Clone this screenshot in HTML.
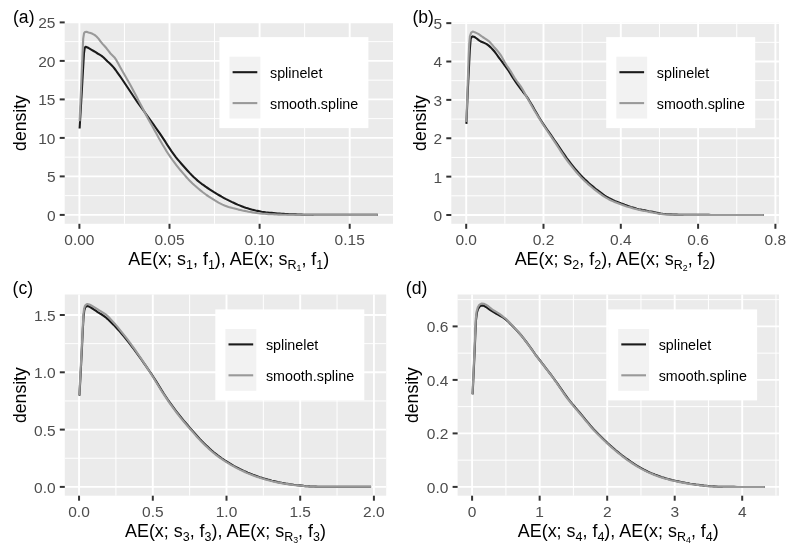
<!DOCTYPE html>
<html lang="en">
<head>
<meta charset="utf-8">
<title>Density of absolute errors: splinelet vs smooth.spline</title>
<style>
html,body{margin:0;padding:0;background:#fff;}
body{width:796px;height:555px;overflow:hidden;}
svg{display:block;}
text{white-space:pre;}
</style>
</head>
<body>
<svg width="796" height="555" viewBox="0 0 796 555" font-family='"Liberation Sans", Arial, Helvetica, sans-serif'>
<rect x="0" y="0" width="796" height="555" fill="#fff"/>
<g>
<rect x="64.7" y="22.1" width="328.3" height="201.7" fill="#ebebeb"/>
<line x1="124.45" y1="22.1" x2="124.45" y2="223.8" stroke="#fff" stroke-width="1.00"/>
<line x1="214.55" y1="22.1" x2="214.55" y2="223.8" stroke="#fff" stroke-width="1.00"/>
<line x1="304.65" y1="22.1" x2="304.65" y2="223.8" stroke="#fff" stroke-width="1.00"/>
<line x1="64.7" y1="195.65" x2="393.0" y2="195.65" stroke="#fff" stroke-width="1.00"/>
<line x1="64.7" y1="157.15" x2="393.0" y2="157.15" stroke="#fff" stroke-width="1.00"/>
<line x1="64.7" y1="118.65" x2="393.0" y2="118.65" stroke="#fff" stroke-width="1.00"/>
<line x1="64.7" y1="80.15" x2="393.0" y2="80.15" stroke="#fff" stroke-width="1.00"/>
<line x1="64.7" y1="41.65" x2="393.0" y2="41.65" stroke="#fff" stroke-width="1.00"/>
<line x1="79.40" y1="22.1" x2="79.40" y2="223.8" stroke="#fff" stroke-width="1.90"/>
<line x1="169.50" y1="22.1" x2="169.50" y2="223.8" stroke="#fff" stroke-width="1.90"/>
<line x1="259.60" y1="22.1" x2="259.60" y2="223.8" stroke="#fff" stroke-width="1.90"/>
<line x1="349.70" y1="22.1" x2="349.70" y2="223.8" stroke="#fff" stroke-width="1.90"/>
<line x1="64.7" y1="214.90" x2="393.0" y2="214.90" stroke="#fff" stroke-width="1.90"/>
<line x1="64.7" y1="176.40" x2="393.0" y2="176.40" stroke="#fff" stroke-width="1.90"/>
<line x1="64.7" y1="137.90" x2="393.0" y2="137.90" stroke="#fff" stroke-width="1.90"/>
<line x1="64.7" y1="99.40" x2="393.0" y2="99.40" stroke="#fff" stroke-width="1.90"/>
<line x1="64.7" y1="60.90" x2="393.0" y2="60.90" stroke="#fff" stroke-width="1.90"/>
<line x1="64.7" y1="22.40" x2="393.0" y2="22.40" stroke="#fff" stroke-width="1.90"/>
<polyline points="79.6,128.5 81.3,100.0 82.9,71.8 84.0,53.0 84.7,48.0 85.6,46.7 87.6,47.5 89.6,48.6 91.6,49.8 93.6,51.0 95.6,52.2 97.6,53.5 99.6,54.7 101.6,55.9 103.6,57.5 105.6,59.4 107.6,61.4 109.6,63.3 111.6,65.3 113.6,67.4 115.6,70.0 117.6,72.8 119.6,75.6 121.6,78.5 123.6,81.5 125.6,84.5 127.6,87.5 129.6,90.5 131.6,93.5 133.6,96.5 135.6,99.5 137.6,102.4 139.6,105.2 141.6,108.0 143.6,110.7 145.6,113.5 147.6,116.3 149.6,119.1 151.6,121.9 153.6,124.7 155.6,127.5 157.6,130.4 159.6,133.2 161.6,136.2 163.6,139.2 165.6,142.2 167.6,145.4 169.6,148.4 171.6,151.4 173.6,154.1 175.6,156.8 177.6,159.3 179.6,161.7 181.6,164.0 183.6,166.3 185.6,168.5 187.6,170.7 189.6,172.9 191.6,175.0 193.6,177.0 195.6,178.8 197.6,180.6 199.6,182.2 201.6,183.8 203.6,185.2 205.6,186.7 207.6,188.0 209.6,189.3 211.6,190.6 213.6,191.9 215.6,193.1 217.6,194.3 219.6,195.5 221.6,196.7 223.6,197.8 225.6,198.9 227.6,199.9 229.6,200.9 231.6,201.9 233.6,202.8 235.6,203.7 237.6,204.6 239.6,205.4 241.6,206.2 243.6,207.0 245.6,207.7 247.6,208.3 249.6,208.9 251.6,209.5 253.6,210.0 255.6,210.5 257.6,210.9 259.6,211.3 261.6,211.7 263.6,212.0 265.6,212.3 267.6,212.5 269.6,212.7 271.6,212.9 273.6,213.1 275.6,213.3 277.6,213.5 279.6,213.6 281.6,213.8 283.6,213.9 285.6,214.0 287.6,214.1 289.6,214.2 291.6,214.3 293.6,214.3 295.6,214.4 297.6,214.5 299.6,214.5 301.6,214.6 303.6,214.7 305.6,214.7 307.6,214.8 309.6,214.8 311.6,214.8 313.6,214.9 315.6,214.9 317.6,214.9 319.6,214.9 321.6,214.9 323.6,214.9 325.6,214.9 327.6,214.9 329.6,214.9 331.6,214.9 333.6,214.9 335.6,214.9 337.6,214.9 339.6,214.9 341.6,214.9 343.6,214.9 345.6,214.9 347.6,214.9 349.6,214.9 351.6,214.9 353.6,214.9 355.6,214.9 357.6,214.9 359.6,214.9 361.6,214.9 363.6,214.9 365.6,214.9 367.6,214.9 369.6,214.9 371.6,214.9 373.6,214.9 375.6,214.9 377.6,214.9 377.8,214.9" fill="none" stroke="#1a1a1a" stroke-width="2.10" stroke-linejoin="round"/>
<polyline points="79.6,121.3 81.0,90.0 82.4,57.8 83.2,38.9 84.0,33.4 84.9,32.0 86.5,31.8 88.5,32.5 90.5,33.1 92.5,33.8 94.5,34.9 96.5,36.5 98.5,38.6 100.5,41.4 102.5,43.9 104.5,46.0 106.5,48.3 108.5,50.9 110.5,53.5 112.5,55.4 114.5,57.4 116.5,60.4 118.5,64.1 120.5,67.7 122.5,71.2 124.5,74.7 126.5,78.2 128.5,81.7 130.5,85.2 132.5,88.9 134.5,92.7 136.5,96.6 138.5,100.4 140.5,104.3 142.5,108.1 144.5,112.0 146.5,115.7 148.5,119.4 150.5,123.0 152.5,126.6 154.5,130.2 156.5,133.8 158.5,137.5 160.5,141.0 162.5,144.5 164.5,147.8 166.5,151.1 168.5,154.2 170.5,157.1 172.5,160.0 174.5,162.7 176.5,165.3 178.5,167.8 180.5,170.3 182.5,172.6 184.5,174.9 186.5,177.2 188.5,179.4 190.5,181.4 192.5,183.4 194.5,185.3 196.5,187.0 198.5,188.7 200.5,190.4 202.5,192.0 204.5,193.5 206.5,195.0 208.5,196.3 210.5,197.7 212.5,198.9 214.5,200.2 216.5,201.4 218.5,202.6 220.5,203.6 222.5,204.6 224.5,205.5 226.5,206.2 228.5,206.9 230.5,207.5 232.5,208.1 234.5,208.6 236.5,209.1 238.5,209.6 240.5,210.0 242.5,210.5 244.5,210.9 246.5,211.3 248.5,211.7 250.5,212.0 252.5,212.4 254.5,212.7 256.5,213.0 258.5,213.3 260.5,213.5 262.5,213.7 264.5,213.8 266.5,213.9 268.5,214.1 270.5,214.2 272.5,214.3 274.5,214.4 276.5,214.5 278.5,214.6 280.5,214.6 282.5,214.7 284.5,214.7 286.5,214.8 288.5,214.8 290.5,214.8 292.5,214.8 294.5,214.8 296.5,214.8 298.5,214.8 300.5,214.8 302.5,214.8 304.5,214.8 306.5,214.8 308.5,214.8 310.5,214.8 312.5,214.8 314.5,214.9 316.5,214.9 318.5,214.9 320.5,214.9 322.5,214.9 324.5,214.9 326.5,214.9 328.5,214.9 330.5,214.9 332.5,214.9 334.5,214.9 336.5,214.9 338.5,214.9 340.5,214.9 342.5,214.9 344.5,214.9 346.5,214.9 348.5,214.9 350.5,214.9 352.5,214.9 354.5,214.9 356.5,214.9 358.5,214.9 360.5,214.9 362.5,214.9 364.5,214.9 366.5,214.9 368.5,214.9 370.5,214.9 372.5,214.9 374.5,214.9 376.5,214.9 377.8,214.9" fill="none" stroke="#999" stroke-width="2.10" stroke-linejoin="round"/>
<line x1="79.40" y1="223.8" x2="79.40" y2="228.8" stroke="#333" stroke-width="2.00"/>
<line x1="169.50" y1="223.8" x2="169.50" y2="228.8" stroke="#333" stroke-width="2.00"/>
<line x1="259.60" y1="223.8" x2="259.60" y2="228.8" stroke="#333" stroke-width="2.00"/>
<line x1="349.70" y1="223.8" x2="349.70" y2="228.8" stroke="#333" stroke-width="2.00"/>
<line x1="59.7" y1="214.90" x2="64.7" y2="214.90" stroke="#333" stroke-width="2.00"/>
<line x1="59.7" y1="176.40" x2="64.7" y2="176.40" stroke="#333" stroke-width="2.00"/>
<line x1="59.7" y1="137.90" x2="64.7" y2="137.90" stroke="#333" stroke-width="2.00"/>
<line x1="59.7" y1="99.40" x2="64.7" y2="99.40" stroke="#333" stroke-width="2.00"/>
<line x1="59.7" y1="60.90" x2="64.7" y2="60.90" stroke="#333" stroke-width="2.00"/>
<line x1="59.7" y1="22.40" x2="64.7" y2="22.40" stroke="#333" stroke-width="2.00"/>
<text x="79.4" y="244.7" text-anchor="middle" font-size="15.50" fill="#4d4d4d">0.00</text>
<text x="169.5" y="244.7" text-anchor="middle" font-size="15.50" fill="#4d4d4d">0.05</text>
<text x="259.6" y="244.7" text-anchor="middle" font-size="15.50" fill="#4d4d4d">0.10</text>
<text x="349.7" y="244.7" text-anchor="middle" font-size="15.50" fill="#4d4d4d">0.15</text>
<text x="55.5" y="220.8" text-anchor="end" font-size="15.50" fill="#4d4d4d">0</text>
<text x="55.5" y="182.2" text-anchor="end" font-size="15.50" fill="#4d4d4d">5</text>
<text x="55.5" y="143.8" text-anchor="end" font-size="15.50" fill="#4d4d4d">10</text>
<text x="55.5" y="105.2" text-anchor="end" font-size="15.50" fill="#4d4d4d">15</text>
<text x="55.5" y="66.8" text-anchor="end" font-size="15.50" fill="#4d4d4d">20</text>
<text x="55.5" y="28.2" text-anchor="end" font-size="15.50" fill="#4d4d4d">25</text>
<text x="228.8" y="265.0" text-anchor="middle" font-size="17.90" fill="#000">AE(x; s<tspan font-size="12.53" dy="3.6">1</tspan><tspan dy="-3.6">, f</tspan><tspan font-size="12.53" dy="3.6">1</tspan><tspan dy="-3.6">), AE(x; s</tspan><tspan font-size="12.53" dy="3.6">R</tspan><tspan font-size="8.77" dy="2.6">1</tspan><tspan dy="-6.2">, f</tspan><tspan font-size="12.53" dy="3.6">1</tspan><tspan dy="-3.6">)</tspan></text>
<text transform="translate(25.5,123.0) rotate(-90)" text-anchor="middle" font-size="17.60" fill="#000">density</text>
<text x="13.0" y="22.7" font-size="17.60" fill="#000">(a)</text>
<rect x="219.4" y="37.1" width="149.0" height="91.0" fill="#fff"/>
<rect x="229.5" y="56.7" width="30.9" height="61.8" fill="#f2f2f2"/>
<line x1="232.6" y1="72.2" x2="257.3" y2="72.2" stroke="#1a1a1a" stroke-width="2.10"/>
<text x="270.0" y="77.8" font-size="14.30" fill="#000">splinelet</text>
<line x1="232.6" y1="103.1" x2="257.3" y2="103.1" stroke="#999" stroke-width="2.10"/>
<text x="270.0" y="108.7" font-size="14.30" fill="#000">smooth.spline</text>
</g>
<g>
<rect x="451.3" y="22.1" width="327.7" height="201.7" fill="#ebebeb"/>
<line x1="504.85" y1="22.1" x2="504.85" y2="223.8" stroke="#fff" stroke-width="1.00"/>
<line x1="582.15" y1="22.1" x2="582.15" y2="223.8" stroke="#fff" stroke-width="1.00"/>
<line x1="659.45" y1="22.1" x2="659.45" y2="223.8" stroke="#fff" stroke-width="1.00"/>
<line x1="736.75" y1="22.1" x2="736.75" y2="223.8" stroke="#fff" stroke-width="1.00"/>
<line x1="451.3" y1="195.80" x2="779.0" y2="195.80" stroke="#fff" stroke-width="1.00"/>
<line x1="451.3" y1="157.45" x2="779.0" y2="157.45" stroke="#fff" stroke-width="1.00"/>
<line x1="451.3" y1="119.10" x2="779.0" y2="119.10" stroke="#fff" stroke-width="1.00"/>
<line x1="451.3" y1="80.70" x2="779.0" y2="80.70" stroke="#fff" stroke-width="1.00"/>
<line x1="451.3" y1="42.35" x2="779.0" y2="42.35" stroke="#fff" stroke-width="1.00"/>
<line x1="466.20" y1="22.1" x2="466.20" y2="223.8" stroke="#fff" stroke-width="1.90"/>
<line x1="543.50" y1="22.1" x2="543.50" y2="223.8" stroke="#fff" stroke-width="1.90"/>
<line x1="620.80" y1="22.1" x2="620.80" y2="223.8" stroke="#fff" stroke-width="1.90"/>
<line x1="698.10" y1="22.1" x2="698.10" y2="223.8" stroke="#fff" stroke-width="1.90"/>
<line x1="775.40" y1="22.1" x2="775.40" y2="223.8" stroke="#fff" stroke-width="1.90"/>
<line x1="451.3" y1="215.00" x2="779.0" y2="215.00" stroke="#fff" stroke-width="1.90"/>
<line x1="451.3" y1="176.63" x2="779.0" y2="176.63" stroke="#fff" stroke-width="1.90"/>
<line x1="451.3" y1="138.26" x2="779.0" y2="138.26" stroke="#fff" stroke-width="1.90"/>
<line x1="451.3" y1="99.89" x2="779.0" y2="99.89" stroke="#fff" stroke-width="1.90"/>
<line x1="451.3" y1="61.52" x2="779.0" y2="61.52" stroke="#fff" stroke-width="1.90"/>
<line x1="451.3" y1="23.15" x2="779.0" y2="23.15" stroke="#fff" stroke-width="1.90"/>
<polyline points="466.4,123.9 467.8,90.0 468.8,70.4 469.8,50.0 470.7,38.9 471.6,37.0 472.7,36.4 474.7,37.1 476.7,38.5 478.7,40.1 480.7,41.5 482.7,42.3 484.7,43.1 486.7,44.1 488.7,45.6 490.7,47.4 492.7,49.5 494.7,51.8 496.7,54.5 498.7,57.3 500.7,60.0 502.7,62.7 504.7,65.5 506.7,68.2 508.7,71.0 510.7,74.1 512.7,77.4 514.7,80.5 516.7,83.4 518.7,86.1 520.7,88.8 522.7,91.5 524.7,94.0 526.7,96.7 528.7,99.7 530.7,103.0 532.7,106.4 534.7,109.9 536.7,113.3 538.7,116.8 540.7,120.0 542.7,123.1 544.7,126.1 546.7,129.0 548.7,131.9 550.7,134.7 552.7,137.6 554.7,140.5 556.7,143.4 558.7,146.4 560.7,149.4 562.7,152.3 564.7,155.2 566.7,158.1 568.7,160.7 570.7,163.3 572.7,165.8 574.7,168.3 576.7,170.7 578.7,173.0 580.7,175.1 582.7,177.2 584.7,179.2 586.7,181.1 588.7,183.0 590.7,184.7 592.7,186.4 594.7,188.1 596.7,189.7 598.7,191.2 600.7,192.7 602.7,194.2 604.7,195.6 606.7,196.8 608.7,198.0 610.7,199.0 612.7,200.0 614.7,200.9 616.7,201.7 618.7,202.5 620.7,203.3 622.7,204.0 624.7,204.8 626.7,205.5 628.7,206.2 630.7,206.9 632.7,207.5 634.7,208.1 636.7,208.7 638.7,209.2 640.7,209.6 642.7,210.0 644.7,210.4 646.7,210.8 648.7,211.2 650.7,211.5 652.7,211.9 654.7,212.3 656.7,212.7 658.7,213.1 660.7,213.5 662.7,213.8 664.7,214.0 666.7,214.2 668.7,214.3 670.7,214.4 672.7,214.5 674.7,214.6 676.7,214.6 678.7,214.7 680.7,214.8 682.7,214.8 684.7,214.8 686.7,214.9 688.7,214.9 690.7,214.9 692.7,214.9 694.7,214.9 696.7,214.9 698.7,214.9 700.7,214.9 702.7,214.9 704.7,214.9 706.7,214.9 708.7,214.9 710.7,215.0 712.7,215.0 714.7,215.0 716.7,215.0 718.7,215.0 720.7,215.0 722.7,215.0 724.7,215.0 726.7,215.0 728.7,215.0 730.7,215.0 732.7,215.0 734.7,215.0 736.7,215.0 738.7,215.0 740.7,215.0 742.7,215.0 744.7,215.0 746.7,215.0 748.7,215.0 750.7,215.0 752.7,215.0 754.7,215.0 756.7,215.0 758.7,215.0 760.7,215.0 762.7,215.0 763.8,215.0" fill="none" stroke="#1a1a1a" stroke-width="2.10" stroke-linejoin="round"/>
<polyline points="466.3,122.0 467.5,90.0 468.6,57.8 469.2,44.0 469.9,36.4 471.2,32.6 472.7,31.6 474.7,32.2 476.7,33.1 478.7,34.2 480.7,35.6 482.7,37.0 484.7,38.3 486.7,39.6 488.7,41.1 490.7,43.1 492.7,45.4 494.7,47.8 496.7,50.0 498.7,52.4 500.7,55.1 502.7,58.6 504.7,62.3 506.7,65.5 508.7,68.4 510.7,71.4 512.7,74.7 514.7,78.1 516.7,81.0 518.7,83.7 520.7,86.4 522.7,89.6 524.7,93.3 526.7,97.1 528.7,100.6 530.7,104.1 532.7,107.5 534.7,111.0 536.7,114.3 538.7,117.6 540.7,120.8 542.7,123.9 544.7,127.0 546.7,130.0 548.7,133.0 550.7,135.9 552.7,138.9 554.7,141.9 556.7,144.9 558.7,148.0 560.7,151.1 562.7,154.1 564.7,157.1 566.7,159.9 568.7,162.6 570.7,165.2 572.7,167.7 574.7,170.1 576.7,172.5 578.7,174.7 580.7,176.9 582.7,178.9 584.7,180.9 586.7,182.8 588.7,184.6 590.7,186.3 592.7,188.0 594.7,189.6 596.7,191.1 598.7,192.7 600.7,194.2 602.7,195.6 604.7,196.9 606.7,198.1 608.7,199.2 610.7,200.2 612.7,201.1 614.7,202.0 616.7,202.8 618.7,203.5 620.7,204.3 622.7,205.0 624.7,205.7 626.7,206.4 628.7,207.0 630.7,207.6 632.7,208.2 634.7,208.7 636.7,209.3 638.7,209.7 640.7,210.2 642.7,210.6 644.7,211.0 646.7,211.3 648.7,211.7 650.7,212.1 652.7,212.5 654.7,212.9 656.7,213.3 658.7,213.6 660.7,213.9 662.7,214.2 664.7,214.4 666.7,214.5 668.7,214.6 670.7,214.6 672.7,214.7 674.7,214.7 676.7,214.8 678.7,214.8 680.7,214.8 682.7,214.8 684.7,214.9 686.7,214.9 688.7,214.9 690.7,214.9 692.7,214.9 694.7,214.9 696.7,214.9 698.7,214.9 700.7,214.9 702.7,214.9 704.7,214.9 706.7,214.9 708.7,214.9 710.7,215.0 712.7,215.0 714.7,215.0 716.7,215.0 718.7,215.0 720.7,215.0 722.7,215.0 724.7,215.0 726.7,215.0 728.7,215.0 730.7,215.0 732.7,215.0 734.7,215.0 736.7,215.0 738.7,215.0 740.7,215.0 742.7,215.0 744.7,215.0 746.7,215.0 748.7,215.0 750.7,215.0 752.7,215.0 754.7,215.0 756.7,215.0 758.7,215.0 760.7,215.0 762.7,215.0 763.8,215.0" fill="none" stroke="#999" stroke-width="2.10" stroke-linejoin="round"/>
<line x1="466.20" y1="223.8" x2="466.20" y2="228.8" stroke="#333" stroke-width="2.00"/>
<line x1="543.50" y1="223.8" x2="543.50" y2="228.8" stroke="#333" stroke-width="2.00"/>
<line x1="620.80" y1="223.8" x2="620.80" y2="228.8" stroke="#333" stroke-width="2.00"/>
<line x1="698.10" y1="223.8" x2="698.10" y2="228.8" stroke="#333" stroke-width="2.00"/>
<line x1="775.40" y1="223.8" x2="775.40" y2="228.8" stroke="#333" stroke-width="2.00"/>
<line x1="446.3" y1="215.00" x2="451.3" y2="215.00" stroke="#333" stroke-width="2.00"/>
<line x1="446.3" y1="176.63" x2="451.3" y2="176.63" stroke="#333" stroke-width="2.00"/>
<line x1="446.3" y1="138.26" x2="451.3" y2="138.26" stroke="#333" stroke-width="2.00"/>
<line x1="446.3" y1="99.89" x2="451.3" y2="99.89" stroke="#333" stroke-width="2.00"/>
<line x1="446.3" y1="61.52" x2="451.3" y2="61.52" stroke="#333" stroke-width="2.00"/>
<line x1="446.3" y1="23.15" x2="451.3" y2="23.15" stroke="#333" stroke-width="2.00"/>
<text x="466.2" y="244.7" text-anchor="middle" font-size="15.50" fill="#4d4d4d">0.0</text>
<text x="543.5" y="244.7" text-anchor="middle" font-size="15.50" fill="#4d4d4d">0.2</text>
<text x="620.8" y="244.7" text-anchor="middle" font-size="15.50" fill="#4d4d4d">0.4</text>
<text x="698.1" y="244.7" text-anchor="middle" font-size="15.50" fill="#4d4d4d">0.6</text>
<text x="775.4" y="244.7" text-anchor="middle" font-size="15.50" fill="#4d4d4d">0.8</text>
<text x="442.1" y="220.8" text-anchor="end" font-size="15.50" fill="#4d4d4d">0</text>
<text x="442.1" y="182.5" text-anchor="end" font-size="15.50" fill="#4d4d4d">1</text>
<text x="442.1" y="144.1" text-anchor="end" font-size="15.50" fill="#4d4d4d">2</text>
<text x="442.1" y="105.7" text-anchor="end" font-size="15.50" fill="#4d4d4d">3</text>
<text x="442.1" y="67.4" text-anchor="end" font-size="15.50" fill="#4d4d4d">4</text>
<text x="442.1" y="29.0" text-anchor="end" font-size="15.50" fill="#4d4d4d">5</text>
<text x="615.1" y="265.0" text-anchor="middle" font-size="17.90" fill="#000">AE(x; s<tspan font-size="12.53" dy="3.6">2</tspan><tspan dy="-3.6">, f</tspan><tspan font-size="12.53" dy="3.6">2</tspan><tspan dy="-3.6">), AE(x; s</tspan><tspan font-size="12.53" dy="3.6">R</tspan><tspan font-size="8.77" dy="2.6">2</tspan><tspan dy="-6.2">, f</tspan><tspan font-size="12.53" dy="3.6">2</tspan><tspan dy="-3.6">)</tspan></text>
<text transform="translate(426.0,123.0) rotate(-90)" text-anchor="middle" font-size="17.60" fill="#000">density</text>
<text x="412.4" y="22.7" font-size="17.60" fill="#000">(b)</text>
<rect x="606.2" y="37.1" width="149.0" height="91.0" fill="#fff"/>
<rect x="616.3" y="56.7" width="30.9" height="61.8" fill="#f2f2f2"/>
<line x1="619.4" y1="72.2" x2="644.1" y2="72.2" stroke="#1a1a1a" stroke-width="2.10"/>
<text x="656.8" y="77.8" font-size="14.30" fill="#000">splinelet</text>
<line x1="619.4" y1="103.1" x2="644.1" y2="103.1" stroke="#999" stroke-width="2.10"/>
<text x="656.8" y="108.7" font-size="14.30" fill="#000">smooth.spline</text>
</g>
<g>
<rect x="64.8" y="294.5" width="321.4" height="201.2" fill="#ebebeb"/>
<line x1="115.90" y1="294.5" x2="115.90" y2="495.7" stroke="#fff" stroke-width="1.00"/>
<line x1="189.65" y1="294.5" x2="189.65" y2="495.7" stroke="#fff" stroke-width="1.00"/>
<line x1="263.35" y1="294.5" x2="263.35" y2="495.7" stroke="#fff" stroke-width="1.00"/>
<line x1="337.05" y1="294.5" x2="337.05" y2="495.7" stroke="#fff" stroke-width="1.00"/>
<line x1="64.8" y1="458.25" x2="386.2" y2="458.25" stroke="#fff" stroke-width="1.00"/>
<line x1="64.8" y1="400.95" x2="386.2" y2="400.95" stroke="#fff" stroke-width="1.00"/>
<line x1="64.8" y1="343.65" x2="386.2" y2="343.65" stroke="#fff" stroke-width="1.00"/>
<line x1="79.05" y1="294.5" x2="79.05" y2="495.7" stroke="#fff" stroke-width="1.90"/>
<line x1="152.80" y1="294.5" x2="152.80" y2="495.7" stroke="#fff" stroke-width="1.90"/>
<line x1="226.50" y1="294.5" x2="226.50" y2="495.7" stroke="#fff" stroke-width="1.90"/>
<line x1="300.20" y1="294.5" x2="300.20" y2="495.7" stroke="#fff" stroke-width="1.90"/>
<line x1="373.90" y1="294.5" x2="373.90" y2="495.7" stroke="#fff" stroke-width="1.90"/>
<line x1="64.8" y1="486.90" x2="386.2" y2="486.90" stroke="#fff" stroke-width="1.90"/>
<line x1="64.8" y1="429.60" x2="386.2" y2="429.60" stroke="#fff" stroke-width="1.90"/>
<line x1="64.8" y1="372.30" x2="386.2" y2="372.30" stroke="#fff" stroke-width="1.90"/>
<line x1="64.8" y1="315.00" x2="386.2" y2="315.00" stroke="#fff" stroke-width="1.90"/>
<polyline points="79.4,395.6 80.3,380.0 82.0,346.8 82.9,328.0 83.6,316.0 84.3,310.4 85.2,307.4 86.4,306.2 87.7,306.0 89.7,306.9 91.7,308.0 93.7,309.3 95.7,310.7 97.7,312.1 99.7,313.3 101.7,314.5 103.7,315.8 105.7,317.3 107.7,319.1 109.7,321.0 111.7,322.9 113.7,324.9 115.7,327.0 117.7,329.2 119.7,331.4 121.7,333.7 123.7,336.1 125.7,338.6 127.7,341.1 129.7,343.7 131.7,346.3 133.7,348.9 135.7,351.6 137.7,354.4 139.7,357.1 141.7,360.0 143.7,362.8 145.7,365.7 147.7,368.6 149.7,371.5 151.7,374.4 153.7,377.5 155.7,380.6 157.7,383.9 159.7,387.1 161.7,390.4 163.7,393.5 165.7,396.5 167.7,399.5 169.7,402.3 171.7,405.1 173.7,407.8 175.7,410.5 177.7,413.1 179.7,415.7 181.7,418.1 183.7,420.6 185.7,423.0 187.7,425.3 189.7,427.6 191.7,429.9 193.7,432.2 195.7,434.5 197.7,436.7 199.7,438.9 201.7,441.0 203.7,443.0 205.7,444.9 207.7,446.8 209.7,448.7 211.7,450.5 213.7,452.2 215.7,453.8 217.7,455.4 219.7,456.8 221.7,458.3 223.7,459.6 225.7,461.0 227.7,462.2 229.7,463.4 231.7,464.6 233.7,465.8 235.7,466.9 237.7,467.9 239.7,469.0 241.7,469.9 243.7,470.9 245.7,471.8 247.7,472.7 249.7,473.5 251.7,474.3 253.7,475.1 255.7,475.8 257.7,476.5 259.7,477.2 261.7,477.8 263.7,478.4 265.7,479.0 267.7,479.6 269.7,480.1 271.7,480.7 273.7,481.1 275.7,481.6 277.7,482.1 279.7,482.5 281.7,482.9 283.7,483.2 285.7,483.6 287.7,483.9 289.7,484.2 291.7,484.5 293.7,484.8 295.7,485.0 297.7,485.2 299.7,485.4 301.7,485.6 303.7,485.9 305.7,486.1 307.7,486.2 309.7,486.4 311.7,486.5 313.7,486.5 315.7,486.6 317.7,486.7 319.7,486.7 321.7,486.8 323.7,486.8 325.7,486.8 327.7,486.8 329.7,486.8 331.7,486.8 333.7,486.8 335.7,486.8 337.7,486.8 339.7,486.8 341.7,486.8 343.7,486.8 345.7,486.8 347.7,486.8 349.7,486.8 351.7,486.8 353.7,486.8 355.7,486.8 357.7,486.8 359.7,486.8 361.7,486.8 363.7,486.8 365.7,486.8 367.7,486.8 369.7,486.8 371.1,486.8" fill="none" stroke="#1a1a1a" stroke-width="2.10" stroke-linejoin="round"/>
<polyline points="79.3,395.0 80.1,380.0 81.8,346.8 82.7,328.0 83.4,314.8 84.0,309.0 84.9,306.0 86.0,304.6 87.3,304.0 89.3,304.5 91.3,305.5 93.3,306.6 95.3,307.8 97.3,309.1 99.3,310.4 101.3,311.6 103.3,312.8 105.3,314.1 107.3,315.8 109.3,317.8 111.3,319.9 113.3,322.1 115.3,324.3 117.3,326.7 119.3,329.1 121.3,331.6 123.3,334.1 125.3,336.6 127.3,339.2 129.3,341.9 131.3,344.6 133.3,347.4 135.3,350.2 137.3,353.1 139.3,356.0 141.3,358.9 143.3,361.9 145.3,365.0 147.3,368.1 149.3,371.2 151.3,374.3 153.3,377.5 155.3,380.7 157.3,384.0 159.3,387.3 161.3,390.5 163.3,393.7 165.3,396.7 167.3,399.7 169.3,402.6 171.3,405.4 173.3,408.2 175.3,410.9 177.3,413.5 179.3,416.1 181.3,418.6 183.3,421.0 185.3,423.4 187.3,425.7 189.3,428.0 191.3,430.3 193.3,432.6 195.3,434.9 197.3,437.2 199.3,439.4 201.3,441.5 203.3,443.5 205.3,445.4 207.3,447.3 209.3,449.2 211.3,451.0 213.3,452.7 215.3,454.3 217.3,455.8 219.3,457.3 221.3,458.7 223.3,460.1 225.3,461.4 227.3,462.7 229.3,463.9 231.3,465.1 233.3,466.2 235.3,467.3 237.3,468.4 239.3,469.4 241.3,470.4 243.3,471.3 245.3,472.2 247.3,473.1 249.3,473.9 251.3,474.7 253.3,475.5 255.3,476.2 257.3,476.9 259.3,477.6 261.3,478.2 263.3,478.8 265.3,479.4 267.3,480.0 269.3,480.5 271.3,481.0 273.3,481.5 275.3,481.9 277.3,482.4 279.3,482.8 281.3,483.1 283.3,483.5 285.3,483.8 287.3,484.1 289.3,484.4 291.3,484.7 293.3,485.0 295.3,485.2 297.3,485.4 299.3,485.6 301.3,485.8 303.3,486.0 305.3,486.2 307.3,486.3 309.3,486.5 311.3,486.5 313.3,486.6 315.3,486.6 317.3,486.7 319.3,486.7 321.3,486.8 323.3,486.8 325.3,486.8 327.3,486.8 329.3,486.8 331.3,486.8 333.3,486.8 335.3,486.8 337.3,486.8 339.3,486.8 341.3,486.8 343.3,486.8 345.3,486.8 347.3,486.8 349.3,486.8 351.3,486.8 353.3,486.8 355.3,486.8 357.3,486.8 359.3,486.8 361.3,486.8 363.3,486.8 365.3,486.8 367.3,486.8 369.3,486.8 371.1,486.8" fill="none" stroke="#999" stroke-width="2.10" stroke-linejoin="round"/>
<line x1="79.05" y1="495.7" x2="79.05" y2="500.7" stroke="#333" stroke-width="2.00"/>
<line x1="152.80" y1="495.7" x2="152.80" y2="500.7" stroke="#333" stroke-width="2.00"/>
<line x1="226.50" y1="495.7" x2="226.50" y2="500.7" stroke="#333" stroke-width="2.00"/>
<line x1="300.20" y1="495.7" x2="300.20" y2="500.7" stroke="#333" stroke-width="2.00"/>
<line x1="373.90" y1="495.7" x2="373.90" y2="500.7" stroke="#333" stroke-width="2.00"/>
<line x1="59.8" y1="486.90" x2="64.8" y2="486.90" stroke="#333" stroke-width="2.00"/>
<line x1="59.8" y1="429.60" x2="64.8" y2="429.60" stroke="#333" stroke-width="2.00"/>
<line x1="59.8" y1="372.30" x2="64.8" y2="372.30" stroke="#333" stroke-width="2.00"/>
<line x1="59.8" y1="315.00" x2="64.8" y2="315.00" stroke="#333" stroke-width="2.00"/>
<text x="79.0" y="516.6" text-anchor="middle" font-size="15.50" fill="#4d4d4d">0.0</text>
<text x="152.8" y="516.6" text-anchor="middle" font-size="15.50" fill="#4d4d4d">0.5</text>
<text x="226.5" y="516.6" text-anchor="middle" font-size="15.50" fill="#4d4d4d">1.0</text>
<text x="300.2" y="516.6" text-anchor="middle" font-size="15.50" fill="#4d4d4d">1.5</text>
<text x="373.9" y="516.6" text-anchor="middle" font-size="15.50" fill="#4d4d4d">2.0</text>
<text x="55.6" y="492.8" text-anchor="end" font-size="15.50" fill="#4d4d4d">0.0</text>
<text x="55.6" y="435.5" text-anchor="end" font-size="15.50" fill="#4d4d4d">0.5</text>
<text x="55.6" y="378.2" text-anchor="end" font-size="15.50" fill="#4d4d4d">1.0</text>
<text x="55.6" y="320.9" text-anchor="end" font-size="15.50" fill="#4d4d4d">1.5</text>
<text x="225.5" y="536.9" text-anchor="middle" font-size="17.90" fill="#000">AE(x; s<tspan font-size="12.53" dy="3.6">3</tspan><tspan dy="-3.6">, f</tspan><tspan font-size="12.53" dy="3.6">3</tspan><tspan dy="-3.6">), AE(x; s</tspan><tspan font-size="12.53" dy="3.6">R</tspan><tspan font-size="8.77" dy="2.6">3</tspan><tspan dy="-6.2">, f</tspan><tspan font-size="12.53" dy="3.6">3</tspan><tspan dy="-3.6">)</tspan></text>
<text transform="translate(25.6,395.1) rotate(-90)" text-anchor="middle" font-size="17.60" fill="#000">density</text>
<text x="12.6" y="294.0" font-size="17.60" fill="#000">(c)</text>
<rect x="215.3" y="309.4" width="149.0" height="91.0" fill="#fff"/>
<rect x="225.4" y="329.0" width="30.9" height="61.8" fill="#f2f2f2"/>
<line x1="228.5" y1="344.4" x2="253.2" y2="344.4" stroke="#1a1a1a" stroke-width="2.10"/>
<text x="265.9" y="350.0" font-size="14.30" fill="#000">splinelet</text>
<line x1="228.5" y1="375.3" x2="253.2" y2="375.3" stroke="#999" stroke-width="2.10"/>
<text x="265.9" y="380.9" font-size="14.30" fill="#000">smooth.spline</text>
</g>
<g>
<rect x="457.6" y="294.5" width="321.4" height="201.2" fill="#ebebeb"/>
<line x1="505.90" y1="294.5" x2="505.90" y2="495.7" stroke="#fff" stroke-width="1.00"/>
<line x1="573.40" y1="294.5" x2="573.40" y2="495.7" stroke="#fff" stroke-width="1.00"/>
<line x1="640.95" y1="294.5" x2="640.95" y2="495.7" stroke="#fff" stroke-width="1.00"/>
<line x1="708.45" y1="294.5" x2="708.45" y2="495.7" stroke="#fff" stroke-width="1.00"/>
<line x1="775.95" y1="294.5" x2="775.95" y2="495.7" stroke="#fff" stroke-width="1.00"/>
<line x1="457.6" y1="460.15" x2="779.0" y2="460.15" stroke="#fff" stroke-width="1.00"/>
<line x1="457.6" y1="406.65" x2="779.0" y2="406.65" stroke="#fff" stroke-width="1.00"/>
<line x1="457.6" y1="353.15" x2="779.0" y2="353.15" stroke="#fff" stroke-width="1.00"/>
<line x1="457.6" y1="299.65" x2="779.0" y2="299.65" stroke="#fff" stroke-width="1.00"/>
<line x1="472.10" y1="294.5" x2="472.10" y2="495.7" stroke="#fff" stroke-width="1.90"/>
<line x1="539.65" y1="294.5" x2="539.65" y2="495.7" stroke="#fff" stroke-width="1.90"/>
<line x1="607.20" y1="294.5" x2="607.20" y2="495.7" stroke="#fff" stroke-width="1.90"/>
<line x1="674.70" y1="294.5" x2="674.70" y2="495.7" stroke="#fff" stroke-width="1.90"/>
<line x1="742.20" y1="294.5" x2="742.20" y2="495.7" stroke="#fff" stroke-width="1.90"/>
<line x1="457.6" y1="486.90" x2="779.0" y2="486.90" stroke="#fff" stroke-width="1.90"/>
<line x1="457.6" y1="433.40" x2="779.0" y2="433.40" stroke="#fff" stroke-width="1.90"/>
<line x1="457.6" y1="379.90" x2="779.0" y2="379.90" stroke="#fff" stroke-width="1.90"/>
<line x1="457.6" y1="326.40" x2="779.0" y2="326.40" stroke="#fff" stroke-width="1.90"/>
<polyline points="472.6,394.4 473.3,380.0 474.5,354.4 475.2,338.0 476.0,320.0 476.9,312.8 478.1,308.8 479.8,306.3 482.0,305.4 484.0,305.8 486.0,307.0 488.0,308.5 490.0,309.9 492.0,311.2 494.0,312.4 496.0,313.5 498.0,314.7 500.0,315.8 502.0,316.9 504.0,318.1 506.0,319.6 508.0,321.4 510.0,323.5 512.0,325.5 514.0,327.5 516.0,329.6 518.0,331.7 520.0,334.0 522.0,336.3 524.0,338.9 526.0,341.5 528.0,344.1 530.0,346.8 532.0,349.6 534.0,352.5 536.0,355.3 538.0,357.9 540.0,360.5 542.0,363.1 544.0,365.6 546.0,368.3 548.0,370.9 550.0,373.5 552.0,376.1 554.0,378.8 556.0,381.5 558.0,384.4 560.0,387.3 562.0,390.2 564.0,393.1 566.0,395.9 568.0,398.6 570.0,401.2 572.0,403.6 574.0,406.0 576.0,408.4 578.0,410.7 580.0,413.0 582.0,415.4 584.0,417.9 586.0,420.3 588.0,422.7 590.0,425.1 592.0,427.4 594.0,429.6 596.0,431.8 598.0,433.8 600.0,435.8 602.0,437.8 604.0,439.7 606.0,441.6 608.0,443.5 610.0,445.3 612.0,447.1 614.0,448.8 616.0,450.5 618.0,452.1 620.0,453.7 622.0,455.3 624.0,456.8 626.0,458.3 628.0,459.7 630.0,461.1 632.0,462.5 634.0,463.8 636.0,465.1 638.0,466.3 640.0,467.5 642.0,468.6 644.0,469.7 646.0,470.7 648.0,471.7 650.0,472.6 652.0,473.5 654.0,474.3 656.0,475.1 658.0,475.8 660.0,476.5 662.0,477.2 664.0,477.8 666.0,478.4 668.0,479.0 670.0,479.5 672.0,480.0 674.0,480.5 676.0,481.0 678.0,481.4 680.0,481.8 682.0,482.2 684.0,482.6 686.0,483.0 688.0,483.3 690.0,483.7 692.0,484.0 694.0,484.3 696.0,484.6 698.0,484.8 700.0,485.1 702.0,485.3 704.0,485.6 706.0,485.8 708.0,486.0 710.0,486.1 712.0,486.3 714.0,486.4 716.0,486.5 718.0,486.7 720.0,486.8 722.0,486.8 724.0,486.9 726.0,486.9 728.0,486.9 730.0,486.9 732.0,486.9 734.0,486.9 736.0,487.0 738.0,487.0 740.0,487.0 742.0,487.0 744.0,487.0 746.0,487.0 748.0,487.0 750.0,487.0 752.0,487.0 754.0,487.0 756.0,487.0 758.0,487.0 760.0,487.0 762.0,487.0 764.0,487.0 764.6,487.0" fill="none" stroke="#1a1a1a" stroke-width="2.10" stroke-linejoin="round"/>
<polyline points="472.5,394.0 473.1,380.0 474.3,354.4 475.0,338.0 475.8,318.8 476.6,311.5 477.8,307.3 479.5,304.6 481.8,303.5 483.8,303.8 485.8,304.6 487.8,305.9 489.8,307.5 491.8,309.1 493.8,310.5 495.8,311.7 497.8,312.9 499.8,314.2 501.8,315.6 503.8,317.2 505.8,318.8 507.8,320.7 509.8,322.8 511.8,324.9 513.8,327.0 515.8,329.1 517.8,331.4 519.8,333.7 521.8,336.1 523.8,338.7 525.8,341.3 527.8,344.0 529.8,346.8 531.8,349.6 533.8,352.5 535.8,355.3 537.8,358.0 539.8,360.5 541.8,363.1 543.8,365.7 545.8,368.3 547.8,370.9 549.8,373.5 551.8,376.2 553.8,378.9 555.8,381.7 557.8,384.6 559.8,387.5 561.8,390.5 563.8,393.4 565.8,396.3 567.8,399.0 569.8,401.5 571.8,404.0 573.8,406.4 575.8,408.8 577.8,411.1 579.8,413.5 581.8,415.9 583.8,418.3 585.8,420.8 587.8,423.2 589.8,425.6 591.8,428.0 593.8,430.2 595.8,432.3 597.8,434.3 599.8,436.3 601.8,438.3 603.8,440.2 605.8,442.1 607.8,443.9 609.8,445.8 611.8,447.5 613.8,449.3 615.8,451.0 617.8,452.6 619.8,454.2 621.8,455.8 623.8,457.3 625.8,458.8 627.8,460.3 629.8,461.7 631.8,463.0 633.8,464.3 635.8,465.6 637.8,466.8 639.8,467.9 641.8,469.1 643.8,470.1 645.8,471.1 647.8,472.1 649.8,473.0 651.8,473.8 653.8,474.7 655.8,475.5 657.8,476.2 659.8,476.9 661.8,477.5 663.8,478.2 665.8,478.8 667.8,479.3 669.8,479.9 671.8,480.4 673.8,480.8 675.8,481.3 677.8,481.7 679.8,482.1 681.8,482.5 683.8,482.9 685.8,483.2 687.8,483.6 689.8,483.9 691.8,484.2 693.8,484.5 695.8,484.8 697.8,485.0 699.8,485.3 701.8,485.5 703.8,485.7 705.8,485.9 707.8,486.1 709.8,486.2 711.8,486.3 713.8,486.5 715.8,486.6 717.8,486.7 719.8,486.8 721.8,486.8 723.8,486.9 725.8,486.9 727.8,486.9 729.8,486.9 731.8,486.9 733.8,486.9 735.8,486.9 737.8,487.0 739.8,487.0 741.8,487.0 743.8,487.0 745.8,487.0 747.8,487.0 749.8,487.0 751.8,487.0 753.8,487.0 755.8,487.0 757.8,487.0 759.8,487.0 761.8,487.0 763.8,487.0 764.6,487.0" fill="none" stroke="#999" stroke-width="2.10" stroke-linejoin="round"/>
<line x1="472.10" y1="495.7" x2="472.10" y2="500.7" stroke="#333" stroke-width="2.00"/>
<line x1="539.65" y1="495.7" x2="539.65" y2="500.7" stroke="#333" stroke-width="2.00"/>
<line x1="607.20" y1="495.7" x2="607.20" y2="500.7" stroke="#333" stroke-width="2.00"/>
<line x1="674.70" y1="495.7" x2="674.70" y2="500.7" stroke="#333" stroke-width="2.00"/>
<line x1="742.20" y1="495.7" x2="742.20" y2="500.7" stroke="#333" stroke-width="2.00"/>
<line x1="452.6" y1="486.90" x2="457.6" y2="486.90" stroke="#333" stroke-width="2.00"/>
<line x1="452.6" y1="433.40" x2="457.6" y2="433.40" stroke="#333" stroke-width="2.00"/>
<line x1="452.6" y1="379.90" x2="457.6" y2="379.90" stroke="#333" stroke-width="2.00"/>
<line x1="452.6" y1="326.40" x2="457.6" y2="326.40" stroke="#333" stroke-width="2.00"/>
<text x="472.1" y="516.6" text-anchor="middle" font-size="15.50" fill="#4d4d4d">0</text>
<text x="539.6" y="516.6" text-anchor="middle" font-size="15.50" fill="#4d4d4d">1</text>
<text x="607.2" y="516.6" text-anchor="middle" font-size="15.50" fill="#4d4d4d">2</text>
<text x="674.7" y="516.6" text-anchor="middle" font-size="15.50" fill="#4d4d4d">3</text>
<text x="742.2" y="516.6" text-anchor="middle" font-size="15.50" fill="#4d4d4d">4</text>
<text x="448.4" y="492.8" text-anchor="end" font-size="15.50" fill="#4d4d4d">0.0</text>
<text x="448.4" y="439.2" text-anchor="end" font-size="15.50" fill="#4d4d4d">0.2</text>
<text x="448.4" y="385.8" text-anchor="end" font-size="15.50" fill="#4d4d4d">0.4</text>
<text x="448.4" y="332.2" text-anchor="end" font-size="15.50" fill="#4d4d4d">0.6</text>
<text x="618.3" y="536.9" text-anchor="middle" font-size="17.90" fill="#000">AE(x; s<tspan font-size="12.53" dy="3.6">4</tspan><tspan dy="-3.6">, f</tspan><tspan font-size="12.53" dy="3.6">4</tspan><tspan dy="-3.6">), AE(x; s</tspan><tspan font-size="12.53" dy="3.6">R</tspan><tspan font-size="8.77" dy="2.6">4</tspan><tspan dy="-6.2">, f</tspan><tspan font-size="12.53" dy="3.6">4</tspan><tspan dy="-3.6">)</tspan></text>
<text transform="translate(418.4,395.1) rotate(-90)" text-anchor="middle" font-size="17.60" fill="#000">density</text>
<text x="405.8" y="294.0" font-size="17.60" fill="#000">(d)</text>
<rect x="608.1" y="309.4" width="149.0" height="91.0" fill="#fff"/>
<rect x="618.2" y="329.0" width="30.9" height="61.8" fill="#f2f2f2"/>
<line x1="621.3" y1="344.4" x2="646.0" y2="344.4" stroke="#1a1a1a" stroke-width="2.10"/>
<text x="658.7" y="350.0" font-size="14.30" fill="#000">splinelet</text>
<line x1="621.3" y1="375.3" x2="646.0" y2="375.3" stroke="#999" stroke-width="2.10"/>
<text x="658.7" y="380.9" font-size="14.30" fill="#000">smooth.spline</text>
</g>
</svg>
</body>
</html>
